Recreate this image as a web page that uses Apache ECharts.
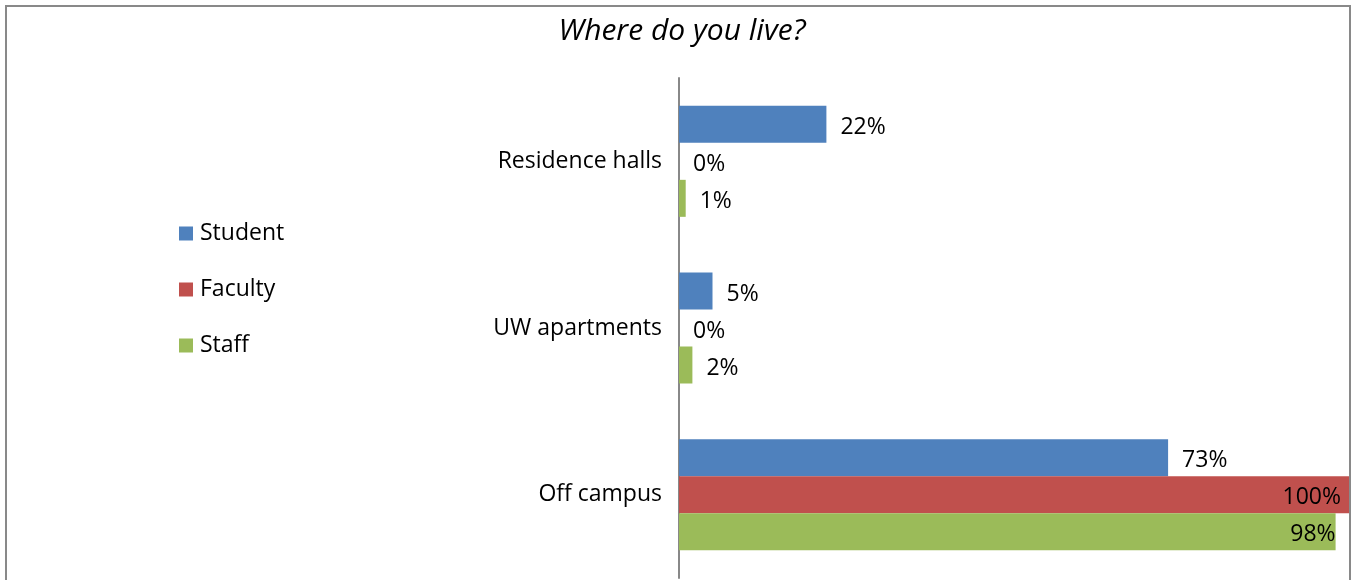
<!DOCTYPE html>
<html>
<head>
<meta charset="utf-8">
<script src="https://cdn.jsdelivr.net/npm/echarts@6/dist/echarts.min.js"></script>
<style>
html,body{margin:0;padding:0;background:#fff;}
#chart{width:1356px;height:580px;}
</style>
</head>
<body>
<div id="chart"></div>
<script>
const title = "Where do you live?";
const categories = ["Residence halls", "UW apartments", "Off campus"];
const seriesNames = ["Student", "Faculty", "Staff"];
const student = [22, 5, 73];
const faculty = [0, 0, 100];
const staff = [1, 2, 98];
const colors = ["#4F81BD", "#C0504D", "#9BBB59"];

const FONT = "'Open Sans', Lato, sans-serif";
const FS = 23;

function labelFor(v) {
  // Labels that would overflow the plot are drawn inside at the plot's right edge
  if (v >= 100) return { position: "insideRight", distance: 8, offset: [0, 3] };
  if (v >= 90) return { position: "insideRight", distance: 8, offset: [8, 3] };
  return { position: "right", distance: 14, offset: [0, 3] };
}

function makeSeries(name, values, color) {
  return {
    name: name,
    type: "bar",
    barWidth: 37,
    barGap: "0%",
    itemStyle: { color: color },
    label: {
      show: true,
      formatter: "{c}%",
      color: "#000",
      fontSize: FS,
      fontFamily: FONT
    },
    data: values.map(v => ({ value: v, label: labelFor(v) }))
  };
}

const chart = echarts.init(document.getElementById("chart"), null, { renderer: "canvas" });
chart.setOption({
  animation: false,
  backgroundColor: "#fff",
  title: {
    text: title,
    left: 677,
    textAlign: "center",
    top: 11,
    textStyle: { fontFamily: FONT, fontStyle: "italic", fontWeight: "normal", fontSize: 30, color: "#000" }
  },
  graphic: [{
    type: "rect",
    shape: { x: 6, y: 6, width: 1344, height: 600 },
    style: { fill: "none", stroke: "#898989", lineWidth: 2 },
    silent: true,
    z: 100
  }],
  legend: {
    orient: "vertical",
    left: 179,
    top: 221,
    padding: 0,
    itemWidth: 14,
    itemHeight: 14,
    itemGap: 31,
    icon: "rect",
    textStyle: { fontFamily: FONT, fontSize: FS, color: "#000", lineHeight: 22, padding: [3, 0, 0, 2] },
    data: seriesNames
  },
  grid: { left: 679, right: 7, top: 78, bottom: 2, containLabel: false },
  xAxis: {
    type: "value",
    min: 0,
    max: 100,
    show: false
  },
  yAxis: {
    type: "category",
    inverse: true,
    data: categories,
    axisLine: { show: true, lineStyle: { color: "#888", width: 2 } },
    axisTick: { show: false },
    axisLabel: { color: "#000", fontSize: FS, fontFamily: FONT, margin: 17, padding: [9, 0, 0, 0] }
  },
  series: [
    makeSeries(seriesNames[0], student, colors[0]),
    makeSeries(seriesNames[1], faculty, colors[1]),
    makeSeries(seriesNames[2], staff, colors[2])
  ]
});
</script>
</body>
</html>
